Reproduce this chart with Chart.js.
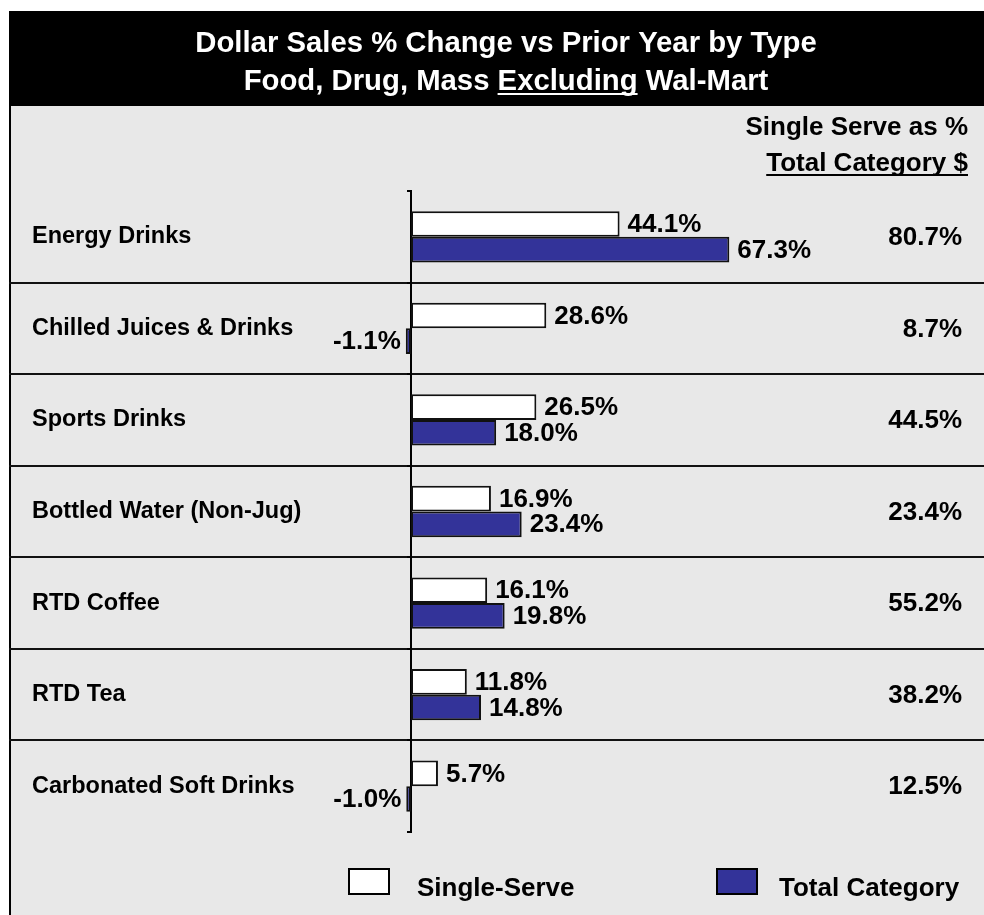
<!DOCTYPE html>
<html>
<head>
<meta charset="utf-8">
<script src="https://cdn.jsdelivr.net/npm/chart.js@4/dist/chart.umd.min.js"></script>
<style>
  html, body { margin: 0; padding: 0; background: #fff; }
  canvas { display: block; }
</style>
</head>
<body>
<canvas id="salesChart" width="984" height="915"></canvas>
<script>
// chart values
var categories = ['Energy Drinks', 'Chilled Juices & Drinks', 'Sports Drinks', 'Bottled Water (Non-Jug)', 'RTD Coffee', 'RTD Tea', 'Carbonated Soft Drinks']
var singleServe = [44.1, 28.6, 26.5, 16.9, 16.1, 11.8, 5.7]
var totalCategory = [67.3, -1.1, 18.0, 23.4, 19.8, 14.8, -1.0]
var shareOfTotal = [80.7, 8.7, 44.5, 23.4, 55.2, 38.2, 12.5]
var seriesNames = ['Single-Serve', 'Total Category']

var FONT = 'Liberation Sans, Arial, sans-serif'

function pct(v) {
    return v.toFixed(1) + '%'
}

// background, header box, right-hand column header, row separators
var framePlugin = {
    id: 'frame',
    beforeDraw: (chart) => {
        let ctx = chart.ctx
        let w = chart.width, h = chart.height
        ctx.save()
        ctx.fillStyle = '#fff'
        ctx.fillRect(0, 0, w, h)
        ctx.fillStyle = '#e8e8e8'
        ctx.fillRect(10, 106, w - 10, h - 106)
        ctx.fillStyle = '#000'
        ctx.fillRect(9, 11, w - 9, 95)
        ctx.fillRect(9, 106, 2, h - 106)

        // title
        ctx.fillStyle = '#fff'
        ctx.font = 'bold 29.3px ' + FONT
        ctx.textBaseline = 'alphabetic'
        ctx.textAlign = 'center'
        ctx.fillText('Dollar Sales % Change vs Prior Year by Type', 506, 52)
        let pre = 'Food, Drug, Mass ', ul = 'Excluding', post = ' Wal-Mart'
        let wPre = ctx.measureText(pre).width
        let wUl = ctx.measureText(ul).width
        let wPost = ctx.measureText(post).width
        let x0 = 506 - (wPre + wUl + wPost) / 2
        ctx.textAlign = 'left'
        ctx.fillText(pre + ul + post, x0, 90)
        ctx.fillRect(x0 + wPre, 93, wUl, 2)

        // right column header
        ctx.fillStyle = '#000'
        ctx.font = 'bold 26px ' + FONT
        ctx.textAlign = 'right'
        ctx.fillText('Single Serve as %', 968, 135)
        ctx.fillText('Total Category $', 968, 171)
        let wt = ctx.measureText('Total Category $').width
        ctx.fillRect(968 - wt, 174, wt, 2)

        // separators between category rows
        let y = chart.scales.y
        ctx.strokeStyle = '#111'
        ctx.lineWidth = 2
        for (let i = 0; i < categories.length - 1; i++) {
            let yy = Math.round((y.getPixelForValue(i) + y.getPixelForValue(i + 1)) / 2)
            ctx.beginPath()
            ctx.moveTo(9, yy)
            ctx.lineTo(w, yy)
            ctx.stroke()
        }
        ctx.restore()
    },
    afterDatasetsDraw: (chart) => {
        let ctx = chart.ctx
        ctx.save()
        ctx.fillStyle = '#000'
        ctx.font = 'bold 26px ' + FONT
        ctx.textBaseline = 'middle'
        // bar value labels
        chart.data.datasets.forEach((ds, di) => {
            chart.getDatasetMeta(di).data.forEach((bar, i) => {
                let v = ds.data[i]
                if (v >= 0) {
                    ctx.textAlign = 'left'
                    ctx.fillText(pct(v), bar.x + 8, bar.y + 1)
                } else {
                    ctx.textAlign = 'right'
                    ctx.fillText(pct(v), bar.x - 5, bar.y + 1)
                }
            })
        })
        // single serve share column
        let y = chart.scales.y
        ctx.textAlign = 'right'
        shareOfTotal.forEach((v, i) => {
            ctx.fillText(pct(v), 962, y.getPixelForValue(i) + 1)
        })
        // legend
        let items = [{ box: 349, text: 417 }, { box: 717, text: 779 }]
        ctx.textAlign = 'left'
        ctx.textBaseline = 'alphabetic'
        ctx.lineWidth = 2
        ctx.strokeStyle = '#000'
        chart.data.datasets.forEach((ds, di) => {
            let it = items[di]
            ctx.fillStyle = ds.backgroundColor
            ctx.fillRect(it.box, 869, 40, 25)
            ctx.strokeRect(it.box, 869, 40, 25)
            ctx.fillStyle = '#000'
            ctx.fillText(ds.label, it.text, 896)
        })
        ctx.restore()
    }
}

new Chart(document.getElementById('salesChart'), {
    type: 'bar',
    data: {
        labels: categories,
        datasets: [
            {
                label: seriesNames[0],
                data: singleServe,
                backgroundColor: '#ffffff',
                borderColor: '#111',
                borderWidth: 2,
                borderSkipped: false,
                clip: false
            },
            {
                label: seriesNames[1],
                data: totalCategory,
                backgroundColor: '#333399',
                borderColor: '#111',
                borderWidth: 2,
                borderSkipped: false,
                clip: false
            }
        ]
    },
    options: {
        indexAxis: 'y',
        responsive: false,
        animation: false,
        categoryPercentage: 0.56,
        barPercentage: 1.0,
        layout: { padding: { top: 191, bottom: 83, left: 32, right: 100 } },
        plugins: {
            legend: { display: false },
            tooltip: { enabled: false }
        },
        scales: {
            x: { type: 'linear', min: 0, max: 100, display: false },
            y: {
                grid: {
                    drawOnChartArea: false,
                    drawTicks: true,
                    tickLength: 4,
                    color: '#000',
                    lineWidth: 2,
                    offset: true
                },
                border: { display: true, color: '#000', width: 2 },
                ticks: {
                    crossAlign: 'far',
                    color: '#000',
                    padding: 0,
                    font: { family: FONT, size: 23.5, weight: 'bold' }
                },
                afterFit: (scale) => { scale.width = 379 }
            }
        }
    },
    plugins: [framePlugin]
})
</script>
</body>
</html>
